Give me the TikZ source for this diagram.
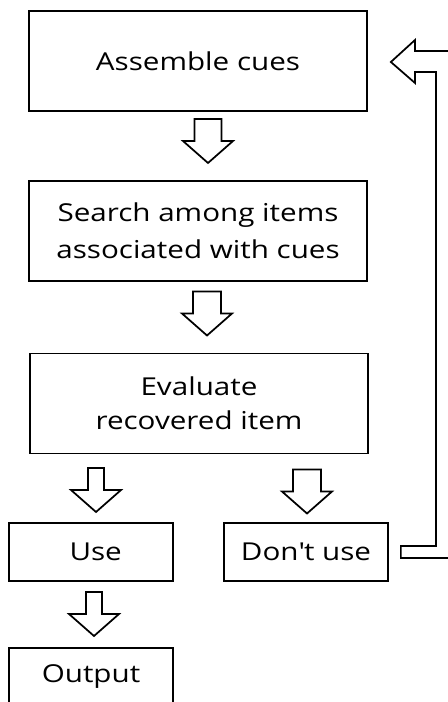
\documentclass[tikz,border=0pt]{standalone}
\usepackage{fontspec}
\setmainfont[FakeStretch=1.2]{Open Sans}
\usetikzlibrary{calc}
\tikzset{
  box/.style={draw, line width=1.3pt, inner sep=0pt, align=center, font=\fontsize{18.5}{27}\selectfont},
  bigbox/.style={box, minimum width=253.5pt, minimum height=75pt},
  smallbox/.style={box, minimum width=123pt, minimum height=43.5pt},
  pics/blockarrow/.style={code={
    \draw[line width=1.3pt, fill=white] (-#1,-22) -- (#1,-22) -- (#1,0) -- (25,0) -- (0,22) -- (-25,0) -- (-#1,0) -- cycle;
  }},
}
\begin{document}
\begin{tikzpicture}[x=0.75pt, y=-0.75pt]
\useasboundingbox (0,0) rectangle (448,702);
\clip (0,0) rectangle (448,702);
\node (cues)[bigbox] at (198, 61) {Assemble cues};
\node (search)[bigbox, font=\fontsize{18.5}{27.75}\selectfont] at (198, 231) {Search among items\\associated with cues};
\node (evaluate)[bigbox, font=\fontsize{18.5}{25.5}\selectfont] at (199, 403.5) {Evaluate\\recovered item};
\node (use)[smallbox] at (91, 552) {\hspace*{7pt}Use};
\node (dontuse)[smallbox] at (306, 552) {Don\textquotesingle t use};
\node (output)[smallbox] at (91, 677) {Output};
\pic at (208, 141) {blockarrow=13.5};
\pic at (207, 313.5) {blockarrow=14};
\pic at (96, 490) {blockarrow=8};
\pic at (307, 491.5) {blockarrow=14};
\pic at (94, 614) {blockarrow=8};
\draw[line width=1.3pt] ($(dontuse.east)+(12,-6)$) -| (436,72) -- (415,72) -- (415,83)
  -- ($(cues.east)+(23,1)$) -- (415,40) -- (415,51) -- (460,51)
  |- ($(dontuse.east)+(12,6)$) -- cycle;
\end{tikzpicture}
\end{document}
